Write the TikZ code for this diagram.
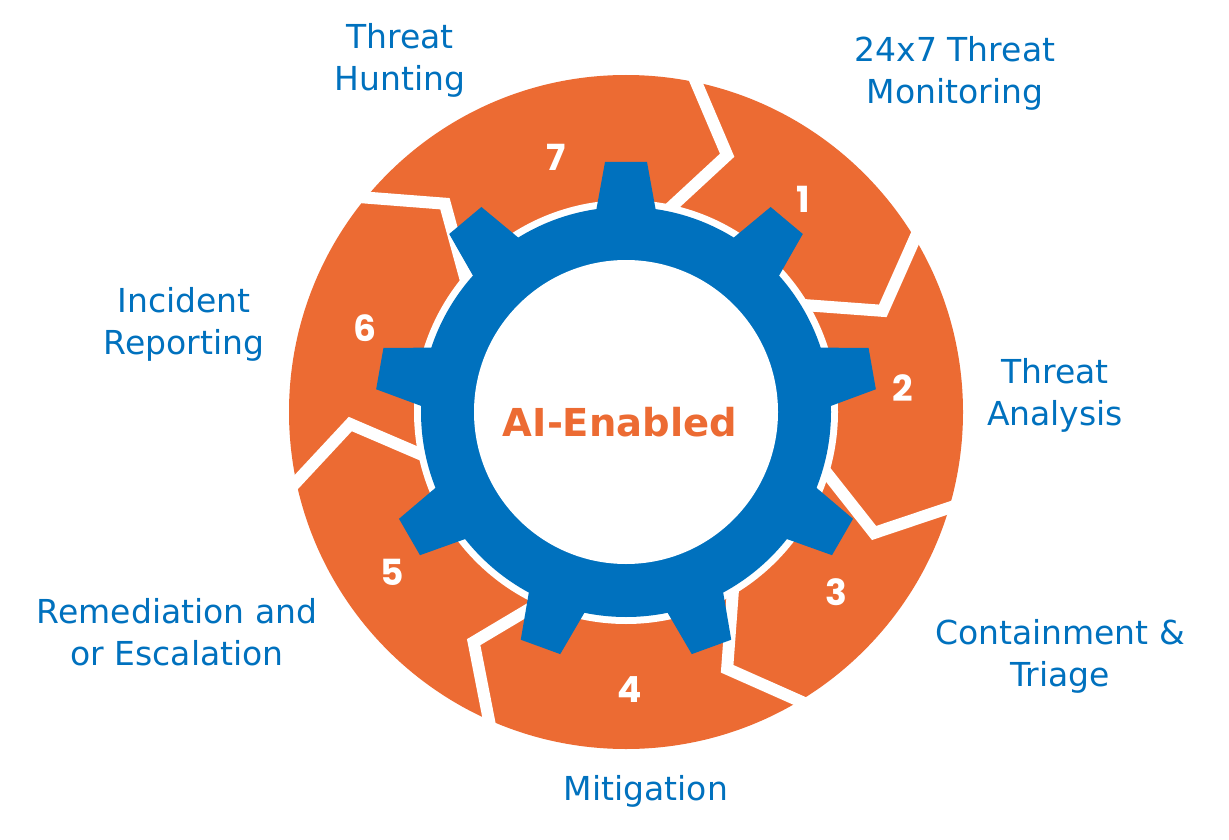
\documentclass[tikz,border=0pt]{standalone}
\usepackage{fontspec}
\newfontfamily\labfont{DejaVu Sans}
\newfontfamily\numfont{Poppins}
\definecolor{orng}{RGB}{236,107,51}
\definecolor{gblue}{RGB}{0,113,190}
\begin{document}
\begin{tikzpicture}[x=1pt,y=1pt,
  lbl/.style={text=gblue, font=\labfont\fontsize{33}{42}\selectfont, align=center, inner sep=0pt},
  num/.style={text=white, font=\numfont\bfseries\fontsize{36}{40}\selectfont, inner sep=0pt},
  gap/.style={white, line width=12, line join=miter, miter limit=20},
  tooth/.style={fill=gblue}]
\useasboundingbox (0,-840) rectangle (1229,0);
\fill[white] (0,-840) rectangle (1229,0);
\begin{scope}[shift={(626,-412)}]
  % orange ring with chevron gaps
  \fill[orng] (0,0) circle (337);
  \foreach \b in {80,33,-14.5,-57,-112,-166,142.5}{
    \draw[gap] (\b:355) -- ({\b-11.5}:276) -- (\b:198);
  }
  \fill[white] (0,0) circle (212);
  % gear
  \fill[gblue] (0,0) circle (205);
  \foreach \k in {0,...,8}{
    \fill[tooth, rotate={90-40*\k}] (195,-31) -- (250,-21) -- (250,21) -- (195,31) -- cycle;
  }
  \fill[white] (0,0) circle (152);
\end{scope}
\node[text=orng, font=\labfont\bfseries\fontsize{38.5}{42}\selectfont, inner sep=0pt] (ai) at (620,-422) {AI-Enabled};
% step numbers
\node[num] (n1) at (803,-199) {1};
\node[num] (n2) at (903,-388) {2};
\node[num] (n3) at (836,-592) {3};
\node[num] (n4) at (630,-690) {4};
\node[num] (n5) at (392,-572) {5};
\node[num] (n6) at (365,-328) {6};
\node[num] (n7) at (556,-157) {7};
% labels
\node[lbl] (l7) at (400,-60.4) {Threat\\Hunting};
\node[lbl] (l1) at (955,-73.4) {24x7 Threat\\Monitoring};
\node[lbl] (l2) at (1055,-395.4) {Threat\\Analysis};
\node[lbl] (l6) at (184,-324.4) {Incident\\Reporting};
\node[lbl] (l5) at (177,-632.5) {Remediation and\\or Escalation};
\node[lbl] (l3) at (1060,-656.4) {Containment \&\\Triage};
\node[lbl, anchor=base] (l4) at (646,-800) {Mitigation};
\end{tikzpicture}
\end{document}
